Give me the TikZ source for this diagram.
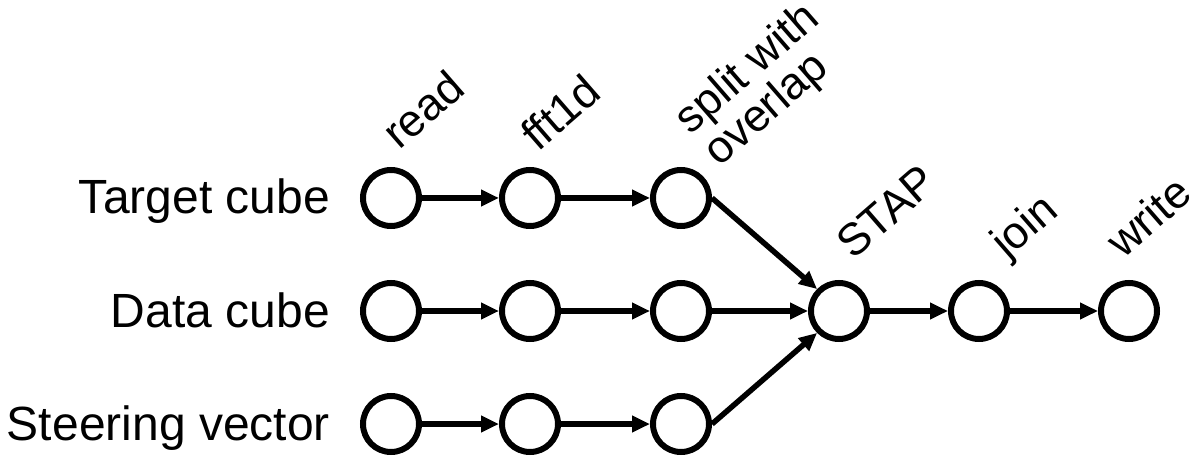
\documentclass[tikz,border=0pt]{standalone}
\usepackage{fontspec}
\setmainfont{Liberation Sans}
\usetikzlibrary{arrows.meta}
\begin{document}
\begin{tikzpicture}[x=1pt,y=-1pt,
  proc/.style={circle,draw=black,line width=6pt,minimum size=56pt,inner sep=0pt},
  flow/.style={line width=5.5pt,-{Triangle[length=18pt,width=16pt]}},
  rowlabel/.style={anchor=base east,inner sep=0pt,font=\fontsize{48}{50}\selectfont},
  oplabel/.style={anchor=base west,inner sep=0pt,rotate=41,align=left,font=\fontsize{45}{41}\selectfont}]
\useasboundingbox (0,0) rectangle (1200,457);
% nodes
\node[proc] (r1) at (391,198) {};
\node[proc] (f1) at (530,198) {};
\node[proc] (s1) at (681,198) {};
\node[proc] (r2) at (391,311) {};
\node[proc] (f2) at (530,311) {};
\node[proc] (s2) at (681,311) {};
\node[proc] (r3) at (391,424) {};
\node[proc] (f3) at (530,424) {};
\node[proc] (s3) at (681,424) {};
\node[proc] (stap) at (839,311) {};
\node[proc] (join) at (979,311) {};
\node[proc] (write) at (1129,311) {};
% row labels
\node[rowlabel] (lt) at (330,214) {Target cube};
\node[rowlabel] (ld) at (330,327) {Data cube};
\node[rowlabel] (ls) at (330,440) {Steering vector};
% operation labels
\node[oplabel] (lread) at (399,151) {read};
\node[oplabel] (lfft) at (538,153) {fft1d};
\node[oplabel] (lsplit) at (719,168) {split with\\overlap};
\node[oplabel] (lstap) at (853,261) {STAP};
\node[oplabel] (ljoin) at (1007,260) {join};
\node[oplabel] (lwrite) at (1123,260) {write};
% connectors
\draw[flow] (r1) -- (f1);
\draw[flow] (f1) -- (s1);
\draw[flow] (r2) -- (f2);
\draw[flow] (f2) -- (s2);
\draw[flow] (r3) -- (f3);
\draw[flow] (f3) -- (s3);
\draw[flow] (s1.east) -- (stap.north west);
\draw[flow] (s2) -- (stap);
\draw[flow] (s3.east) -- (stap.south west);
\draw[flow] (stap) -- (join);
\draw[flow] (join) -- (write);
\end{tikzpicture}
\end{document}
